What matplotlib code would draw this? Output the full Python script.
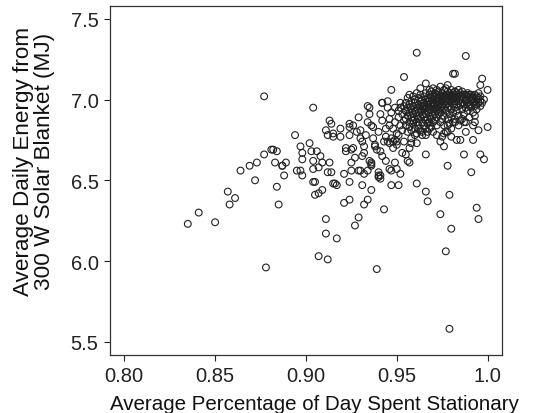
import matplotlib
matplotlib.use("Agg")
import matplotlib.pyplot as plt

plt.rcParams['font.family'] = ['Liberation Sans', 'DejaVu Sans']

# Sparse / outer points (x, y)
sparse_x = [0.835, 0.841, 0.850, 0.857, 0.858, 0.861, 0.864, 0.869, 0.873, 0.872, 0.877, 0.877, 0.878,
            0.881, 0.882, 0.884, 0.883, 0.887, 0.887, 0.884, 0.885, 0.888, 0.889, 0.894, 0.895, 0.897,
            0.898, 0.898, 0.897, 0.898, 0.902, 0.904, 0.903, 0.904, 0.904, 0.905, 0.904, 0.905, 0.907,
            0.906, 0.908, 0.909, 0.907, 0.909, 0.911, 0.911, 0.907, 0.912, 0.913, 0.911, 0.912, 0.913,
            0.914, 0.915, 0.915, 0.912, 0.914, 0.915, 0.916, 0.917, 0.917, 0.919, 0.919, 0.921, 0.921,
            0.922, 0.922, 0.924, 0.924, 0.924, 0.924, 0.924, 0.925, 0.925, 0.926, 0.927, 0.929, 0.929,
            0.930, 0.931, 0.929, 0.930, 0.930, 0.931, 0.932, 0.932, 0.932, 0.934, 0.935, 0.934, 0.935,
            0.934, 0.936, 0.936, 0.936, 0.936, 0.937, 0.938, 0.939, 0.940, 0.940, 0.941, 0.941, 0.942,
            0.942, 0.941, 0.942, 0.943, 0.944, 0.945, 0.945, 0.946, 0.947, 0.947, 0.947, 0.948, 0.948,
            0.949, 0.950, 0.951, 0.952, 0.950, 0.950, 0.951, 0.952, 0.953, 0.954, 0.954, 0.955, 0.956,
            0.957, 0.961, 0.961, 0.961, 0.963, 0.966, 0.966, 0.966, 0.967, 0.974, 0.976, 0.977, 0.978,
            0.979, 0.980, 0.979, 0.978, 0.981, 0.982, 0.983, 0.987, 0.988, 0.991, 0.992, 0.993, 0.994,
            0.995, 0.996, 0.998, 0.995, 0.997, 0.996, 1.000, 1.000, 0.992]
sparse_y = [6.23, 6.30, 6.24, 6.43, 6.35, 6.39, 6.56, 6.59, 6.61, 6.50, 6.66, 7.02, 5.96,
            6.69, 6.69, 6.68, 6.61, 6.59, 6.59, 6.46, 6.35, 6.53, 6.61, 6.78, 6.56, 6.71,
            6.67, 6.63, 6.56, 6.53, 6.73, 6.95, 6.68, 6.62, 6.57, 6.49, 6.49, 6.41, 6.42,
            6.68, 6.65, 6.61, 6.58, 6.44, 6.17, 6.26, 6.03, 6.01, 6.61, 6.81, 6.78, 6.87,
            6.85, 6.79, 6.77, 6.55, 6.55, 6.48, 6.48, 6.47, 6.14, 6.82, 6.77, 6.54, 6.36,
            6.70, 6.68, 6.83, 6.78, 6.49, 6.38, 6.85, 6.61, 6.56, 6.70, 6.22, 6.27, 6.56,
            6.56, 6.47, 6.89, 6.81, 6.76, 6.65, 6.67, 6.54, 6.35, 6.38, 6.91, 6.96, 6.95,
            6.86, 6.84, 6.59, 6.61, 6.44, 6.76, 6.71, 5.95, 6.55, 6.53, 6.53, 6.91, 6.98,
            6.98, 6.68, 6.65, 6.32, 6.82, 6.74, 6.99, 6.88, 6.56, 6.47, 7.06, 6.82, 6.74,
            6.61, 6.57, 6.47, 6.54, 6.79, 6.74, 6.89, 6.95, 6.67, 7.14, 6.74, 6.66, 6.62,
            6.61, 7.29, 6.73, 6.48, 7.07, 6.66, 6.43, 7.10, 6.37, 6.29, 6.71, 6.06, 6.59,
            6.41, 6.20, 5.58, 6.80, 7.16, 7.16, 6.75, 6.66, 7.27, 6.55, 6.75, 6.90, 6.33,
            6.26, 6.66, 6.63, 6.81, 7.13, 7.09, 7.06, 6.83, 6.84]

# Mid-density points
mid_x = [0.938, 0.939, 0.943, 0.944, 0.946, 0.947, 0.948, 0.949, 0.950, 0.951, 0.952, 0.953, 0.954,
         0.953, 0.951, 0.949, 0.946, 0.942, 0.940, 0.937, 0.933, 0.931, 0.928, 0.926, 0.935, 0.936,
         0.940, 0.941, 0.934, 0.927, 0.925, 0.932, 0.944, 0.946, 0.955, 0.954, 0.952, 0.949, 0.947,
         0.945, 0.957, 0.958, 0.960, 0.962, 0.964, 0.966, 0.968, 0.970, 0.972, 0.974, 0.976, 0.978,
         0.980, 0.982, 0.984, 0.986, 0.988, 0.990, 0.992, 0.994, 0.996, 0.998, 0.993, 0.985, 0.980,
         0.988]
mid_y = [6.72, 6.69, 6.74, 6.77, 6.73, 6.76, 6.70, 6.75, 6.72, 6.78, 6.84, 6.81, 6.87,
         6.91, 6.93, 6.86, 6.84, 6.87, 6.80, 6.83, 6.78, 6.74, 6.80, 6.84, 6.62, 6.60,
         6.52, 6.51, 6.56, 6.64, 6.69, 6.71, 6.62, 6.57, 6.93, 6.96, 6.98, 6.95, 6.92,
         6.95, 6.70, 6.73, 6.78, 6.82, 6.80, 6.78, 6.82, 6.80, 6.78, 6.74, 6.79, 6.84,
         6.82, 6.86, 6.84, 6.88, 6.86, 6.89, 6.92, 6.94, 6.96, 7.00, 6.86, 6.75, 6.77,
         6.80]

# Dense cluster: x value -> y values
cluster = {
    0.955: [6.98, 6.93, 6.88, 6.84],
    0.956: [6.95, 7.01, 6.90, 6.80],
    0.957: [6.97, 6.92, 6.86, 7.03, 6.83],
    0.958: [6.99, 6.94, 6.89, 6.81, 6.76],
    0.959: [7.02, 6.96, 6.91, 6.87, 6.85],
    0.960: [6.98, 6.93, 6.88, 7.00, 6.82],
    0.961: [6.95, 7.04, 6.90, 6.86, 6.79],
    0.962: [6.97, 6.92, 7.01, 6.84, 6.88],
    0.963: [6.99, 6.94, 6.89, 6.81, 7.03, 6.96],
    0.964: [6.96, 6.91, 7.00, 6.86, 6.93, 6.78],
    0.965: [6.98, 7.02, 6.94, 6.89, 6.84, 6.96],
    0.966: [7.00, 6.95, 6.91, 6.87, 7.04, 6.82],
    0.967: [6.97, 6.93, 7.01, 6.88, 6.85, 6.99, 6.80],
    0.968: [6.99, 6.95, 7.03, 6.90, 6.86, 6.94, 7.06],
    0.969: [7.01, 6.96, 6.92, 6.88, 6.98, 7.05, 6.83],
    0.970: [6.98, 7.02, 6.94, 6.90, 7.07, 6.96, 6.86],
    0.971: [7.00, 6.95, 7.04, 6.91, 6.97, 6.87, 7.02],
    0.972: [6.99, 7.03, 6.93, 7.06, 6.96, 6.89, 7.01, 6.84],
    0.973: [7.01, 6.97, 7.05, 6.94, 6.99, 6.91, 7.03],
    0.974: [6.98, 7.02, 6.95, 7.08, 7.00, 6.92, 6.86],
    0.975: [7.00, 7.04, 6.96, 6.99, 7.02, 6.93, 6.88, 6.77],
    0.976: [7.02, 6.98, 7.06, 6.95, 7.01, 6.90, 6.84],
    0.977: [6.99, 7.03, 7.07, 6.97, 7.00, 6.93, 6.80],
    0.978: [7.01, 7.05, 6.98, 7.02, 6.95, 7.09, 6.88],
    0.979: [7.00, 7.04, 6.96, 7.02, 6.99, 6.91, 6.85],
    0.980: [7.03, 6.99, 7.06, 7.01, 6.94, 6.89],
    0.981: [7.00, 7.04, 6.97, 7.02, 6.92, 6.86],
    0.982: [7.02, 6.99, 7.05, 6.95, 7.01, 6.88],
    0.983: [7.01, 7.04, 6.97, 7.00, 6.93],
    0.984: [7.03, 6.99, 7.06, 6.96, 6.90],
    0.985: [7.00, 7.04, 6.97, 7.02, 6.87],
    0.986: [7.02, 6.98, 7.05, 6.94],
    0.987: [7.01, 6.97, 7.03, 6.91, 6.86],
    0.988: [7.03, 6.99, 7.00, 6.95],
    0.989: [7.02, 6.98, 7.04, 6.93],
    0.990: [7.01, 6.97, 7.03, 6.96],
    0.991: [7.00, 7.03, 6.95],
    0.992: [7.02, 6.98, 7.01],
    0.993: [7.03, 6.99, 6.96],
    0.994: [7.00, 7.02, 6.97],
    0.995: [7.01, 6.98, 7.04],
    0.996: [6.99, 7.02],
    0.997: [6.98],
}
cluster_x = [x for x, ys in cluster.items() for _ in ys]
cluster_y = [y for ys in cluster.values() for y in ys]

x_all = sparse_x + mid_x + cluster_x
y_all = sparse_y + mid_y + cluster_y

x_ticks = [0.80, 0.85, 0.90, 0.95, 1.0]
x_ticklabels = ["0.80", "0.85", "0.90", "0.95", "1.0"]
y_ticks = [5.5, 6.0, 6.5, 7.0, 7.5]
y_ticklabels = ["5.5", "6.0", "6.5", "7.0", "7.5"]

fig = plt.figure(figsize=(5.45, 4.14), dpi=100)
ax = fig.add_axes([0.2013, 0.140, 0.7197, 0.844])
ax.scatter(x_all, y_all, s=24, facecolors='none', edgecolors='#222222', linewidths=0.8)

ax.set_xlim(0.792, 1.0079)
ax.set_ylim(5.4175, 7.582)
ax.set_xticks(x_ticks)
ax.set_xticklabels(x_ticklabels)
ax.set_yticks(y_ticks)
ax.set_yticklabels(y_ticklabels)
ax.tick_params(direction='out', length=4, width=0.8, labelsize=14.5, colors='#222222', pad=4)
for sp in ax.spines.values():
    sp.set_color('#333333')
    sp.set_linewidth(0.9)

fig.text(0.577, 0.022, "Average Percentage of Day Spent Stationary", fontsize=14.8,
         ha='center', va='center', color='#111111')
fig.text(0.063, 0.61, "Average Daily Energy from\n300 W Solar Blanket (MJ)", fontsize=16.2,
         ha='center', va='center', rotation=90, linespacing=1.02, color='#111111')

fig.savefig("out.png", dpi=100)
